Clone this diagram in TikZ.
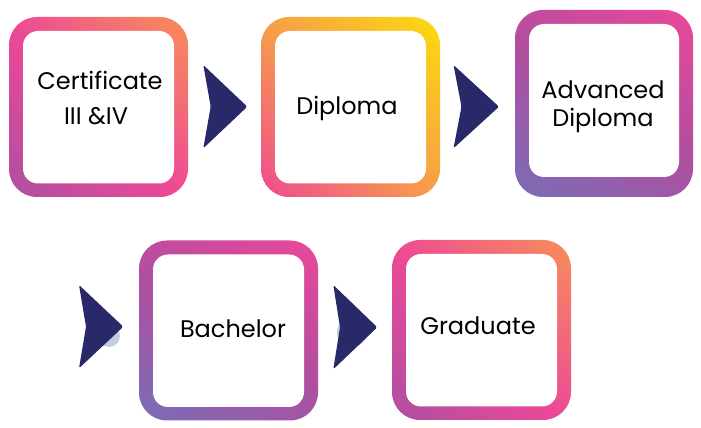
\documentclass[tikz,border=0pt]{standalone}
\usepackage{fontspec}
\setmainfont{Poppins}
\definecolor{navy}{HTML}{29296A}
\definecolor{shadowc}{HTML}{C4CBE3}
\definecolor{cA1}{HTML}{AE4FA2}
\definecolor{cA2}{HTML}{EC4897}
\definecolor{cA3}{HTML}{F88E58}
\definecolor{cB1}{HTML}{EE4A92}
\definecolor{cB2}{HTML}{F79E48}
\definecolor{cB3}{HTML}{FDDA0E}
\definecolor{cC1}{HTML}{786EB6}
\definecolor{cC2}{HTML}{B04EA0}
\definecolor{cC3}{HTML}{EC4899}
\pgfdeclarehorizontalshading{gA}{100bp}{color(0bp)=(cA1); color(15bp)=(cA1); color(48bp)=(cA2); color(85bp)=(cA3); color(100bp)=(cA3)}
\pgfdeclarehorizontalshading{gB}{100bp}{color(0bp)=(cB1); color(15bp)=(cB1); color(50bp)=(cB2); color(85bp)=(cB3); color(100bp)=(cB3)}
\pgfdeclarehorizontalshading{gC}{100bp}{color(0bp)=(cC1); color(15bp)=(cC1); color(50bp)=(cC2); color(85bp)=(cC3); color(100bp)=(cC3)}
\tikzset{
  box/.style={minimum width=179pt, minimum height=180pt, inner sep=0pt,
    rounded corners=28pt, shade, shading angle=45,
    path picture={\fill[white, rounded corners=15pt]
      ([shift={(14pt,#1)}]path picture bounding box.south west) rectangle
      ([shift={(-14pt,-14pt)}]path picture bounding box.north east);}},
  box/.default=13.5pt,
  lbl/.style={anchor=base, inner sep=0pt, font=\fontsize{24pt}{28pt}\selectfont, text=black},
  chev/.style={fill=navy, rounded corners=1.5pt},
  shadowdot/.style={fill=shadowc}
}
\begin{document}
\begin{tikzpicture}[x=1pt, y=1pt]
\useasboundingbox (0,0) rectangle (701,428);
% boxes
\node[box, shading=gA] (b1) at (98.5,321) {};
\node[box, shading=gB] (b2) at (350.5,321) {};
\node[box=20pt, shading=gC, shading angle=58, minimum width=178pt, minimum height=187pt] (b3) at (604,324.5) {};
\node[box, shading=gC, shading angle=58] (b4) at (228.5,97.5) {};
\node[box, shading=gA] (b5) at (481.5,98) {};
% labels
\node[lbl] (t1a) at (100,338) {Certificate};
\node[lbl] (t1b) at (96,303) {III \&IV};
\node[lbl] (t2) at (347,313) {Diploma};
\node[lbl] (t3a) at (603,329.7) {Advanced};
\node[lbl] (t3b) at (603,301.3) {Diploma};
\node[lbl] (t4) at (233,90.7) {Bachelor};
\node[lbl] (t5) at (478,93) {Graduate};
% shadow dots
\fill[shadowdot] (109,92) circle (11);
\fill[shadowdot] (352,96) circle (15);
% chevrons
\fill[chev] (203.3,363) -- (247.3,321.3) -- (203.3,279.7) -- (210.7,321.3) -- cycle;
\fill[chev] (453.5,363) -- (499,321.3) -- (453.5,279.7) -- (461.5,321.3) -- cycle;
\fill[chev] (79,143) -- (123.3,101.3) -- (79,59.7) -- (86,101.3) -- cycle;
\fill[chev] (333.3,143) -- (377.3,100.7) -- (333.3,58.7) -- (340,100.7) -- cycle;
\end{tikzpicture}
\end{document}
